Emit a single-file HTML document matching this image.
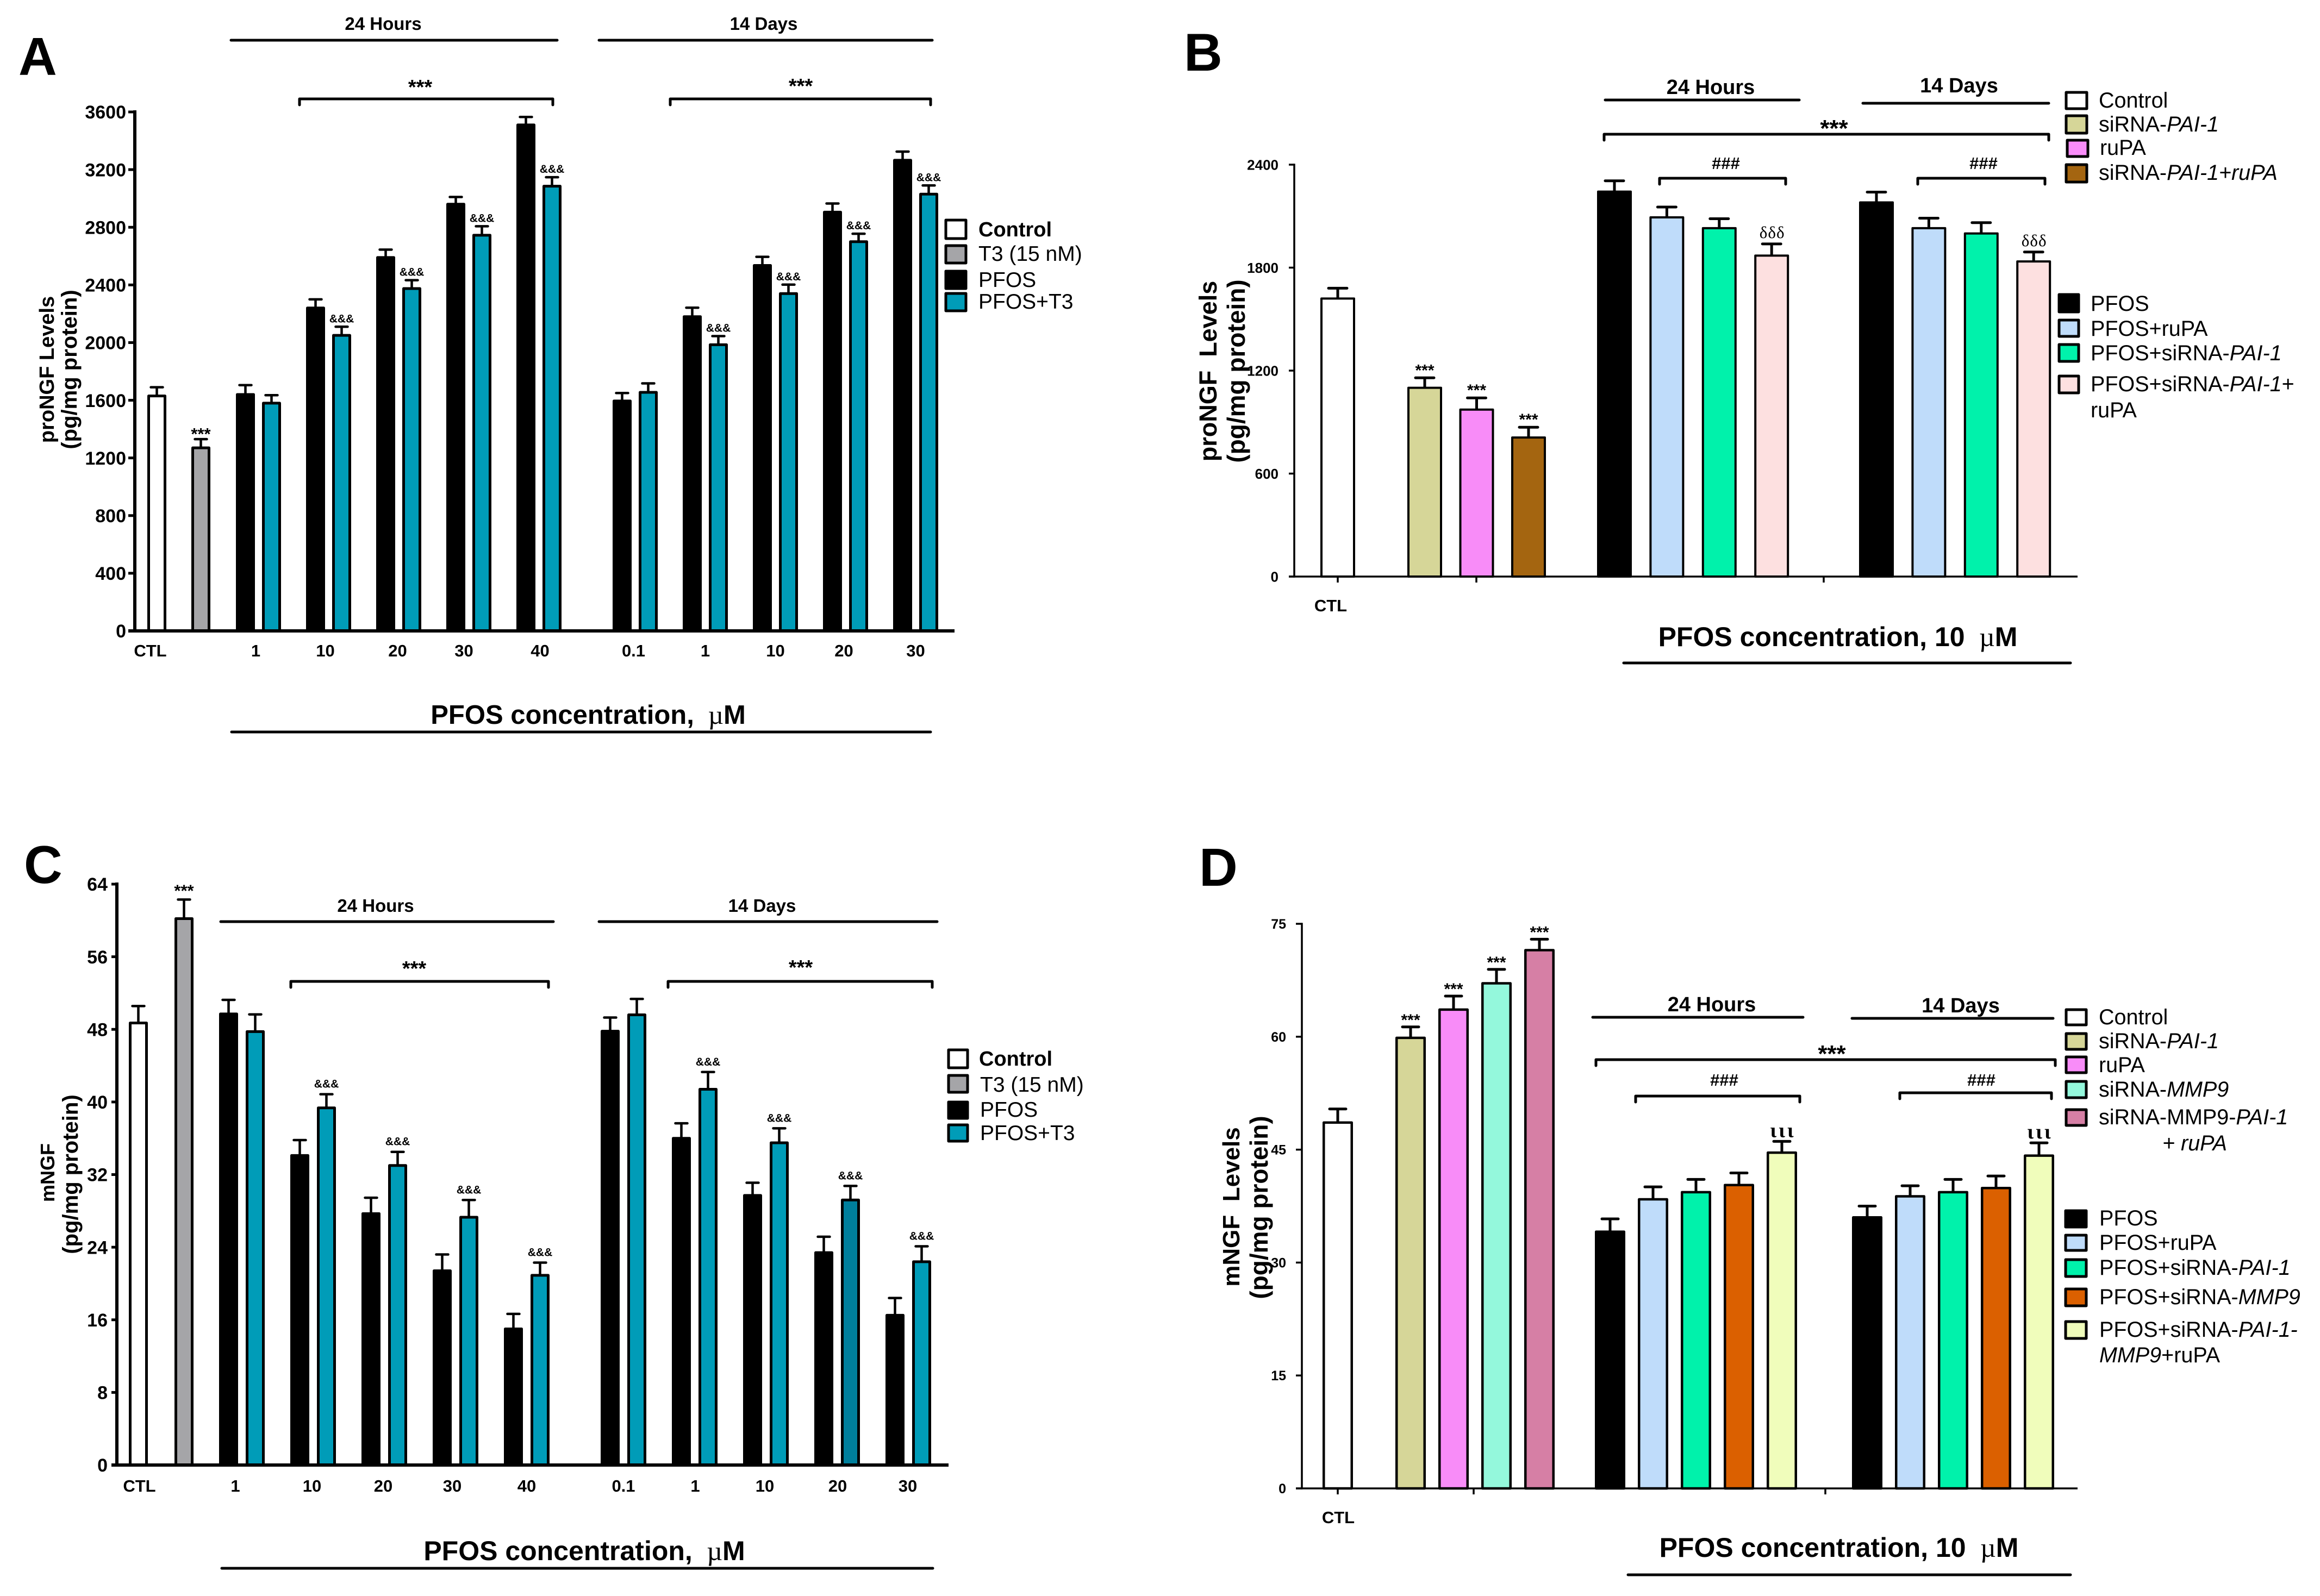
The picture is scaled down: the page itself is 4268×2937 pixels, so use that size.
<!DOCTYPE html>
<html lang="en">
<head>
<meta charset="utf-8">
<title>proNGF and mNGF levels after PFOS exposure</title>
<style>
html,body{margin:0;padding:0;background:#fff}
svg{display:block}
text{font-family:"Liberation Sans",sans-serif;fill:#000}
.b{font-weight:700}
.it{font-style:italic}
.lg{font-size:39.5px}
.hd{font-size:33px;font-weight:700;text-anchor:middle}
.hd2{font-size:38px;font-weight:700;text-anchor:middle}
.ttl{font-size:50px;font-weight:700;text-anchor:middle}
.let{font-size:98px;font-weight:700}
.ser{font-family:"Liberation Serif",serif;font-weight:400}
.ln{stroke:#000;fill:none;stroke-linecap:round;stroke-linejoin:round;stroke-width:5}
.sw{stroke:#000;stroke-width:5;stroke-linejoin:round}
</style>
</head>
<body>
<svg id="fig" xmlns="http://www.w3.org/2000/svg" width="4268" height="2937" viewBox="0 0 4268 2937">
<rect width="4268" height="2937" fill="#fff"/>

<!-- PANEL A static -->
<g id="panelA">
<text class="let" x="34" y="138">A</text>
<text class="hd" x="705" y="55">24 Hours</text>
<path class="ln" d="M425 74H1025"/>
<text class="hd" x="1405" y="55">14 Days</text>
<path class="ln" d="M1102 74H1715"/>
<path class="ln" d="M551 193V182H1017V193"/>
<text class="b" text-anchor="middle" font-size="38" x="773" y="173">***</text>
<path class="ln" d="M1233 193V182H1712V193"/>
<text class="b" text-anchor="middle" font-size="38" x="1473" y="171">***</text>
<g transform="translate(99,680) rotate(-90)"><text class="b" font-size="38" text-anchor="middle">proNGF Levels</text></g>
<g transform="translate(141,680) rotate(-90)"><text class="b" font-size="40" text-anchor="middle">(pg/mg protein)</text></g>
<text class="ttl" style="font-size:49px" x="1082" y="1332">PFOS concentration, <tspan class="ser">&#160;µ</tspan>M</text>
<path class="ln" d="M426 1347H1712"/>
<g>
<rect class="sw" x="1740" y="405" width="37" height="34" fill="#fff"/>
<text class="b" font-size="38" x="1800" y="435">Control</text>
<rect class="sw" x="1740" y="452" width="37" height="32" fill="#a5a5a8"/>
<text font-size="39" x="1800" y="480">T3 (15 nM)</text>
<rect class="sw" x="1740" y="499" width="37" height="32" fill="#000"/>
<text font-size="39" x="1800" y="528">PFOS</text>
<rect class="sw" x="1740" y="540" width="37" height="32" fill="#009cb8"/>
<text font-size="39" x="1800" y="568">PFOS+T3</text>
</g>
</g>

<!-- PANEL B static -->
<g id="panelB">
<text class="let" x="2178" y="130">B</text>
<text class="hd2" x="3147" y="173">24 Hours</text>
<path class="ln" d="M2953 184H3310"/>
<text class="hd2" x="3604" y="170">14 Days</text>
<path class="ln" d="M3427 190H3769"/>
<path class="ln" d="M2951 258V247H3769V258"/>
<text class="b" text-anchor="middle" font-size="44" x="3374" y="251">***</text>
<path class="ln" d="M3053 339V328H3285V339"/>
<text class="b" text-anchor="middle" font-size="31" x="3175" y="311">###</text>
<path class="ln" d="M3528 339V328H3762V339"/>
<text class="b" text-anchor="middle" font-size="31" x="3649" y="311">###</text>
<g transform="translate(2238,683) rotate(-90)"><text class="b" font-size="45" text-anchor="middle" xml:space="preserve">proNGF  Levels</text></g>
<g transform="translate(2290,683) rotate(-90)"><text class="b" font-size="46" text-anchor="middle">(pg/mg protein)</text></g>
<text class="b" text-anchor="middle" font-size="31" x="2448" y="1125">CTL</text>
<text class="ttl" x="3381" y="1189">PFOS concentration, 10 <tspan class="ser">&#160;µ</tspan>M</text>
<path class="ln" d="M2987 1220H3809"/>
<g>
<rect class="sw" x="3801" y="170" width="38" height="30" fill="#fff"/>
<text class="lg" x="3861" y="198">Control</text>
<rect class="sw" x="3801" y="213" width="38" height="32" fill="#d6d698"/>
<text class="lg" x="3861" y="242">siRNA-<tspan class="it">PAI-1</tspan></text>
<rect class="sw" x="3803" y="258" width="38" height="30" fill="#f88cf8"/>
<text class="lg" x="3863" y="285">ruPA</text>
<rect class="sw" x="3801" y="303" width="38" height="32" fill="#a46510"/>
<text class="lg" x="3861" y="331">siRNA-<tspan class="it">PAI-1+ruPA</tspan></text>
</g>
<g>
<rect class="sw" x="3788" y="542" width="36" height="32" fill="#000"/>
<text class="lg" x="3846" y="572">PFOS</text>
<rect class="sw" x="3788" y="589" width="36" height="30" fill="#bfdcfa"/>
<text class="lg" x="3846" y="618">PFOS+ruPA</text>
<rect class="sw" x="3788" y="634" width="36" height="31" fill="#00f2ab"/>
<text class="lg" x="3846" y="663">PFOS+siRNA-<tspan class="it">PAI-1</tspan></text>
<rect class="sw" x="3788" y="692" width="36" height="31" fill="#fde0e0"/>
<text class="lg" x="3846" y="720">PFOS+siRNA-<tspan class="it">PAI-1</tspan>+</text>
<text class="lg" x="3846" y="768">ruPA</text>
</g>
</g>

<!-- PANEL C static -->
<g id="panelC">
<text class="let" x="44" y="1625">C</text>
<text class="hd" x="691" y="1678">24 Hours</text>
<path class="ln" d="M406 1696H1018"/>
<text class="hd" x="1402" y="1678">14 Days</text>
<path class="ln" d="M1102 1696H1724"/>
<path class="ln" d="M535 1817V1806H1009V1817"/>
<text class="b" text-anchor="middle" font-size="38" x="762" y="1795">***</text>
<path class="ln" d="M1229 1817V1806H1715V1817"/>
<text class="b" text-anchor="middle" font-size="38" x="1473" y="1793">***</text>
<g transform="translate(100,2158) rotate(-90)"><text class="b" font-size="36" text-anchor="middle">mNGF</text></g>
<g transform="translate(143,2161) rotate(-90)"><text class="b" font-size="40" text-anchor="middle">(pg/mg protein)</text></g>
<text class="ttl" x="1075" y="2871">PFOS concentration, <tspan class="ser">&#160;µ</tspan>M</text>
<path class="ln" d="M408 2886H1716"/>
<g>
<rect class="sw" x="1745" y="1932" width="35" height="33" fill="#fff"/>
<text class="b" font-size="38" x="1801" y="1961">Control</text>
<rect class="sw" x="1745" y="1979" width="35" height="31" fill="#a5a5a8"/>
<text font-size="39" x="1803" y="2009">T3 (15 nM)</text>
<rect class="sw" x="1745" y="2028" width="35" height="30" fill="#000"/>
<text font-size="39" x="1803" y="2055">PFOS</text>
<rect class="sw" x="1745" y="2070" width="35" height="30" fill="#009cb8"/>
<text font-size="39" x="1803" y="2098">PFOS+T3</text>
</g>
</g>

<!-- PANEL D static -->
<g id="panelD">
<text class="let" x="2206" y="1630">D</text>
<text class="hd2" x="3149" y="1861">24 Hours</text>
<path class="ln" d="M2930 1872H3317"/>
<text class="hd2" x="3607" y="1863">14 Days</text>
<path class="ln" d="M3407 1874H3777"/>
<path class="ln" d="M2936 1961V1950H3781V1961"/>
<text class="b" text-anchor="middle" font-size="44" x="3370" y="1954">***</text>
<path class="ln" d="M3009 2028V2017H3311V2028"/>
<text class="b" text-anchor="middle" font-size="31" x="3172" y="1998">###</text>
<path class="ln" d="M3495 2022V2011H3774V2022"/>
<text class="b" text-anchor="middle" font-size="31" x="3645" y="1998">###</text>
<g transform="translate(2280,2221) rotate(-90)"><text class="b" font-size="44" text-anchor="middle" xml:space="preserve">mNGF  Levels</text></g>
<g transform="translate(2332,2222) rotate(-90)"><text class="b" font-size="46" text-anchor="middle">(pg/mg protein)</text></g>
<text class="b" text-anchor="middle" font-size="31" x="2462" y="2803">CTL</text>
<text class="ttl" x="3383" y="2865">PFOS concentration, 10 <tspan class="ser">&#160;µ</tspan>M</text>
<path class="ln" d="M2995 2898H3809"/>
<g>
<rect class="sw" x="3801" y="1858" width="37" height="28" fill="#fff"/>
<text class="lg" x="3861" y="1885">Control</text>
<rect class="sw" x="3801" y="1902" width="37" height="29" fill="#d6d698"/>
<text class="lg" x="3861" y="1929">siRNA-<tspan class="it">PAI-1</tspan></text>
<rect class="sw" x="3801" y="1945" width="37" height="29" fill="#f88cf8"/>
<text class="lg" x="3861" y="1973">ruPA</text>
<rect class="sw" x="3801" y="1990" width="37" height="30" fill="#94f8dc"/>
<text class="lg" x="3861" y="2018">siRNA-<tspan class="it">MMP9</tspan></text>
<rect class="sw" x="3801" y="2042" width="37" height="29" fill="#d67fa5"/>
<text class="lg" x="3861" y="2069">siRNA-MMP9-<tspan class="it">PAI-1</tspan></text>
<text class="lg it" x="3978" y="2117">+ ruPA</text>
</g>
<g>
<rect class="sw" x="3800" y="2228" width="38" height="30" fill="#000"/>
<text class="lg" x="3862" y="2255">PFOS</text>
<rect class="sw" x="3800" y="2273" width="38" height="28" fill="#bfdcfa"/>
<text class="lg" x="3862" y="2300">PFOS+ruPA</text>
<rect class="sw" x="3800" y="2318" width="38" height="31" fill="#00f2ab"/>
<text class="lg" x="3862" y="2346">PFOS+siRNA-<tspan class="it">PAI-1</tspan></text>
<rect class="sw" x="3800" y="2372" width="38" height="31" fill="#db6000"/>
<text class="lg" x="3862" y="2400">PFOS+siRNA-<tspan class="it">MMP9</tspan></text>
<rect class="sw" x="3800" y="2432" width="38" height="31" fill="#f0fdbb"/>
<text class="lg" x="3862" y="2460">PFOS+siRNA-<tspan class="it">PAI-1-</tspan></text>
<text class="lg" x="3862" y="2507"><tspan class="it">MMP9</tspan>+ruPA</text>
</g>
</g>
</svg>

<script>
// ---------- Panel A data ----------
const aYTicks = [0, 400, 800, 1200, 1600, 2000, 2400, 2800, 3200, 3600];
const aControlLabels = ['CTL', ''];
const aControlValues = [1630, 1270];
const aControlErrors = [60, 60];
const aDoseLabels = ['1', '10', '20', '30', '40', '0.1', '1', '10', '20', '30'];
const aPfosValues = [1640, 2240, 2590, 2960, 3510, 1595, 2180, 2535, 2905, 3265];
const aPfosErrors = [65, 60, 55, 50, 55, 55, 62, 60, 60, 60];
const aPfosT3Values = [1580, 2050, 2375, 2745, 3085, 1655, 1985, 2340, 2700, 3030];
const aPfosT3Errors = [55, 60, 58, 62, 62, 62, 60, 62, 55, 60];
const aPfosT3Marks = ['', '&&&', '&&&', '&&&', '&&&', '', '&&&', '&&&', '&&&', '&&&'];

// ---------- Panel B data ----------
const bYTicks = [0, 600, 1200, 1800, 2400];
const bControlNames = ['Control', 'siRNA-PAI-1', 'ruPA', 'siRNA-PAI-1+ruPA'];
const bControlValues = [1620, 1100, 973, 810];
const bControlErrors = [60, 58, 68, 60];
const bTreatNames = ['PFOS', 'PFOS+ruPA', 'PFOS+siRNA-PAI-1', 'PFOS+siRNA-PAI-1+ruPA'];
const b24hValues = [2243, 2093, 2030, 1870];
const b24hErrors = [63, 60, 55, 68];
const b14dValues = [2180, 2030, 1999, 1836];
const b14dErrors = [60, 58, 63, 55];

// ---------- Panel C data ----------
const cYTicks = [0, 8, 16, 24, 32, 40, 48, 56, 64];
const cControlLabels = ['CTL', ''];
const cControlValues = [48.7, 60.2];
const cControlErrors = [1.87, 2.1];
const cDoseLabels = ['1', '10', '20', '30', '40', '0.1', '1', '10', '20', '30'];
const cPfosValues = [49.7, 34.1, 27.7, 21.4, 15.0, 47.8, 36.0, 29.7, 23.4, 16.5];
const cPfosErrors = [1.55, 1.7, 1.75, 1.8, 1.65, 1.5, 1.65, 1.4, 1.75, 1.9];
const cPfosT3Values = [47.75, 39.35, 33.0, 27.3, 20.9, 49.6, 41.4, 35.5, 29.2, 22.4];
const cPfosT3Errors = [1.9, 1.5, 1.5, 1.9, 1.4, 1.75, 1.9, 1.6, 1.55, 1.7];
const cPfosT3Marks = ['', '&&&', '&&&', '&&&', '&&&', '', '&&&', '&&&', '&&&', '&&&'];

// ---------- Panel D data ----------
const dYTicks = [0, 15, 30, 45, 60, 75];
const dControlNames = ['Control', 'siRNA-PAI-1', 'ruPA', 'siRNA-MMP9', 'siRNA-MMP9-PAI-1+ruPA'];
const dControlValues = [48.6, 59.85, 63.6, 67.1, 71.5];
const dControlErrors = [1.8, 1.45, 1.8, 1.85, 1.45];
const dTreatNames = ['PFOS', 'PFOS+ruPA', 'PFOS+siRNA-PAI-1', 'PFOS+siRNA-MMP9', 'PFOS+siRNA-PAI-1-MMP9+ruPA'];
const d24hValues = [34.1, 38.4, 39.35, 40.3, 44.6];
const d24hErrors = [1.7, 1.65, 1.7, 1.6, 1.5];
const d14dValues = [36.0, 38.8, 39.35, 39.9, 44.2];
const d14dErrors = [1.5, 1.4, 1.7, 1.6, 1.7];

// ---------- Style look-ups (keyed by series name) ----------
const fillBySeries = {
  'Control': '#ffffff', 'T3': '#a5a5a8', 'PFOS': '#000000', 'PFOS+T3': '#009cb8',
  'siRNA-PAI-1': '#d6d698', 'ruPA': '#f88cf8', 'siRNA-PAI-1+ruPA': '#a46510',
  'siRNA-MMP9': '#94f8dc', 'siRNA-MMP9-PAI-1+ruPA': '#d67fa5',
  'PFOS+ruPA': '#bfdcfa', 'PFOS+siRNA-PAI-1': '#00f2ab', 'PFOS+siRNA-PAI-1+ruPA': '#fde0e0',
  'PFOS+siRNA-MMP9': '#db6000', 'PFOS+siRNA-PAI-1-MMP9+ruPA': '#f0fdbb'
};

const NS = 'http://www.w3.org/2000/svg';
function node(tag, parent) {
  const el = document.createElementNS(NS, tag);
  parent.appendChild(el);
  return el;
}
function slug(s) {
  return String(s).toLowerCase().replace(/[^a-z0-9]+/g, '-').replace(/^-|-$/g, '');
}

// Y axis scale factory: pixel range comes from the panel frame.
function linearY(max, top, base) {
  return v => base - (v / max) * (base - top);
}

// Draw one bar with its upward error whisker. Returns the whisker-top pixel.
function drawBar(parent, name, left, width, value, err, fill, y, frame) {
  const base = y(0);
  const top = y(value);
  const capTop = y(value + err);
  const cx = left + width / 2;
  const sw = frame.barStroke;

  const whisker = node('line', parent);
  
  
  whisker.setAttribute('x1', cx);
  whisker.setAttribute('x2', cx);
  whisker.setAttribute('y1', top);
  whisker.setAttribute('y2', capTop);
  whisker.setAttribute('stroke', '#000');
  whisker.setAttribute('stroke-width', frame.errStroke);

  const cap = node('line', parent);
  
  
  cap.setAttribute('x1', cx - frame.capHalf);
  cap.setAttribute('x2', cx + frame.capHalf);
  cap.setAttribute('y1', capTop);
  cap.setAttribute('y2', capTop);
  cap.setAttribute('stroke', '#000');
  cap.setAttribute('stroke-width', frame.errStroke);
  cap.setAttribute('stroke-linecap', 'round');

  const bar = node('rect', parent);
  
  
  bar.setAttribute('x', left + sw / 2);
  bar.setAttribute('y', top);
  bar.setAttribute('width', width - sw);
  bar.setAttribute('height', base - top);
  bar.setAttribute('fill', fill);
  bar.setAttribute('stroke', '#000');
  bar.setAttribute('stroke-width', sw);
  bar.setAttribute('stroke-linejoin', 'round');
  return capTop;
}

function drawMark(parent, name, text, cx, y, size, serif, bold, spacing) {
  const t = node('text', parent);
  
  
  t.setAttribute('x', cx);
  t.setAttribute('y', y);
  t.setAttribute('text-anchor', 'middle');
  t.setAttribute('font-size', size);
  let css = '';
  if (serif) css += 'font-family:"Liberation Serif",serif;';
  if (spacing) css += 'letter-spacing:' + spacing + 'px;';
  if (css) t.setAttribute('style', css);
  t.setAttribute('font-weight', bold ? '700' : '400');
  t.textContent = text;
}

function drawAxes(parent, prefix, ticks, y, frame) {
  const yAxis = node('line', parent);
  
  
  yAxis.setAttribute('x1', frame.axisX);
  yAxis.setAttribute('x2', frame.axisX);
  yAxis.setAttribute('y1', y(ticks[ticks.length - 1]));
  yAxis.setAttribute('y2', y(0));
  yAxis.setAttribute('stroke', '#000');
  yAxis.setAttribute('stroke-width', frame.axisStroke);
  yAxis.setAttribute('stroke-linecap', 'square');

  const xAxis = node('line', parent);
  
  
  xAxis.setAttribute('x1', frame.axisX - frame.tickLen);
  xAxis.setAttribute('x2', frame.axisEnd);
  xAxis.setAttribute('y1', y(0));
  xAxis.setAttribute('y2', y(0));
  xAxis.setAttribute('stroke', '#000');
  xAxis.setAttribute('stroke-width', frame.axisStroke);

  ticks.forEach(v => {
    const tick = node('line', parent);
    
    
    tick.setAttribute('x1', frame.axisX - frame.tickLen);
    tick.setAttribute('x2', frame.axisX);
    tick.setAttribute('y1', y(v));
    tick.setAttribute('y2', y(v));
    tick.setAttribute('stroke', '#000');
    tick.setAttribute('stroke-width', frame.tickStroke);

    const label = node('text', parent);
    
    
    label.setAttribute('x', frame.tickLabelX);
    label.setAttribute('y', y(v) + frame.tickSize * 0.36);
    label.setAttribute('text-anchor', 'end');
    label.setAttribute('font-size', frame.tickSize);
    label.setAttribute('font-weight', '700');
    label.textContent = v;
  });
}

function drawXTick(parent, name, x, y, frame) {
  const t = node('line', parent);
  
  
  t.setAttribute('x1', x);
  t.setAttribute('x2', x);
  t.setAttribute('y1', y(0));
  t.setAttribute('y2', y(0) + frame.xTickLen);
  t.setAttribute('stroke', '#000');
  t.setAttribute('stroke-width', frame.tickStroke);
}

// Panels A and C share a structure: two control bars, then ten PFOS / PFOS+T3 pairs.
function drawPairPanel(g, prefix, frame, ticks, ctlLabels, ctlValues, ctlErrors, doses, pVals, pErrs, tVals, tErrs, marks) {
  const y = linearY(ticks[ticks.length - 1], frame.top, frame.base);
  const names = ['Control', 'T3'];
  const pairX = (i, slot) => {
    const block = i < 5 ? 0 : 1;
    return frame.blockStart[block] + (i - block * 5) * frame.groupStep + slot * frame.pairOffset;
  };

  ctlValues.forEach((v, i) => {
    const left = frame.controlLeft[i];
    const top = drawBar(g, prefix + '-bar-' + slug(names[i]), left, frame.barW, v, ctlErrors[i], fillBySeries[names[i]], y, frame);
    if (ctlLabels[i]) {
      const lab = node('text', g);
      
      
      lab.setAttribute('x', left + frame.barW / 2 + frame.ctlLabelShift);
      lab.setAttribute('y', frame.xLabelY);
      lab.setAttribute('text-anchor', 'middle');
      lab.setAttribute('font-size', frame.xLabelSize);
      lab.setAttribute('font-weight', '700');
      lab.textContent = ctlLabels[i];
    }
    if (names[i] === 'T3') {
      drawMark(g, prefix + '-t3-significance', '***', left + frame.barW / 2, top + frame.starDy, 31, false, true);
    }
  });

  doses.forEach((d, i) => {
    const period = i < 5 ? '24h' : '14d';
    drawBar(g, prefix + '-bar-pfos-' + period + '-' + slug(d), pairX(i, 0), frame.barW, pVals[i], pErrs[i], fillBySeries['PFOS'], y, frame);
    const special = prefix === 'c' && i === 8;
    const topT = drawBar(g, prefix + '-bar-pfos-t3-' + period + '-' + slug(d), pairX(i, 1), frame.barW, tVals[i], tErrs[i], special ? '#007f9c' : fillBySeries['PFOS+T3'], y, frame);
    if (marks[i]) {
      drawMark(g, prefix + '-t3-effect-' + period + '-' + slug(d), marks[i], pairX(i, 1) + frame.barW / 2, topT - frame.markGap, 21, false, true);
    }
    const lab = node('text', g);
    
    
    lab.setAttribute('x', (pairX(i, 0) + pairX(i, 1) + frame.barW) / 2 + frame.labelNudge[i]);
    lab.setAttribute('y', frame.xLabelY);
    lab.setAttribute('text-anchor', 'middle');
    lab.setAttribute('font-size', frame.xLabelSize);
    lab.setAttribute('font-weight', '700');
    lab.textContent = d;
  });
  drawAxes(g, prefix, ticks, y, frame);
}

// Panels B and D share a structure: control group then two blocks of treatment bars.
function drawTreatPanel(g, prefix, frame, ticks, ctlNames, ctlValues, ctlErrors, treatNames, vals24, errs24, vals14, errs14, glyph) {
  const y = linearY(ticks[ticks.length - 1], frame.top, frame.base);
  const ctlX = i => (i === 0 ? frame.ctlFirst : frame.ctlStart + (i - 1) * frame.ctlStep);
  const treatX = (block, i) => frame.blockStart[block] + i * frame.treatStep;

  ctlValues.forEach((v, i) => {
    const top = drawBar(g, prefix + '-bar-' + slug(ctlNames[i]), ctlX(i), frame.barW, v, ctlErrors[i], fillBySeries[ctlNames[i]], y, frame);
    if (i > 0) {
      drawMark(g, prefix + '-significance-' + slug(ctlNames[i]), '***', ctlX(i) + frame.barW / 2, top - frame.starGap, 30, false, true);
    }
  });
  [[vals24, errs24, '24h'], [vals14, errs14, '14d']].forEach((set, block) => {
    set[0].forEach((v, i) => {
      const top = drawBar(g, prefix + '-bar-' + set[2] + '-' + slug(treatNames[i]), treatX(block, i), frame.barW, v, set[1][i], fillBySeries[treatNames[i]], y, frame);
      if (i === set[0].length - 1) {
        drawMark(g, prefix + '-combination-effect-' + set[2], glyph, treatX(block, i) + frame.barW / 2 + frame.glyphShift, top - frame.glyphGap, frame.glyphSize, true, frame.glyphBold, frame.glyphSpacing);
      }
    });
  });
  drawAxes(g, prefix, ticks, y, frame);
  frame.xTicks.forEach((x, i) => {
    drawXTick(g, prefix + '-x-tick-' + (i + 1), x, y, frame);
  });
}

drawPairPanel(document.getElementById('panelA'), 'a', {
  top: 206, base: 1161, axisX: 248, axisEnd: 1756, axisStroke: 6, tickLen: 12, tickStroke: 5,
  tickLabelX: 232, tickSize: 34, barW: 35, barStroke: 5, errStroke: 4.5, capHalf: 11,
  controlLeft: [271, 352], blockStart: [434, 1127], groupStep: 129, pairOffset: 48,
  ctlLabelShift: -12, xLabelY: 1208, xLabelSize: 31, starDy: 1, markGap: 8,
  labelNudge: [-5, -6, -2, -9, 2, -3, 0, 0, -3, 0]
}, aYTicks, aControlLabels, aControlValues, aControlErrors, aDoseLabels, aPfosValues, aPfosErrors, aPfosT3Values, aPfosT3Errors, aPfosT3Marks);

drawTreatPanel(document.getElementById('panelB'), 'b', {
  top: 303, base: 1061, axisX: 2381, axisEnd: 3822, axisStroke: 3.5, tickLen: 10, tickStroke: 3.5,
  tickLabelX: 2352, tickSize: 26, barW: 64, barStroke: 4, errStroke: 5, capHalf: 17,
  ctlFirst: 2429, ctlStart: 2589, ctlStep: 95.5, blockStart: [2938, 3420], treatStep: 96.4,
  starGap: 4, glyphGap: 11, glyphSize: 31, glyphBold: false, glyphSpacing: 1, glyphShift: 1,
  xTickLen: 11, xTicks: [2461, 2716, 3355]
}, bYTicks, bControlNames, bControlValues, bControlErrors, bTreatNames, b24hValues, b24hErrors, b14dValues, b14dErrors, 'δδδ');

drawPairPanel(document.getElementById('panelC'), 'c', {
  top: 1627, base: 2696, axisX: 215, axisEnd: 1745, axisStroke: 6, tickLen: 10, tickStroke: 5,
  tickLabelX: 198, tickSize: 34, barW: 35, barStroke: 5, errStroke: 4.5, capHalf: 11,
  controlLeft: [237, 321], blockStart: [403, 1105], groupStep: 131, pairOffset: 49,
  ctlLabelShift: 2, xLabelY: 2745, xLabelSize: 31, starDy: -6, markGap: 12,
  labelNudge: [-12, -2, -2, -6, 0, 0, 1, -2, 1, -1]
}, cYTicks, cControlLabels, cControlValues, cControlErrors, cDoseLabels, cPfosValues, cPfosErrors, cPfosT3Values, cPfosT3Errors, cPfosT3Marks);

drawTreatPanel(document.getElementById('panelD'), 'd', {
  top: 1700, base: 2739, axisX: 2395, axisEnd: 3822, axisStroke: 3.5, tickLen: 11, tickStroke: 3.5,
  tickLabelX: 2366, tickSize: 25, barW: 56, barStroke: 4.5, errStroke: 5, capHalf: 15,
  ctlFirst: 2433, ctlStart: 2567, ctlStep: 79, blockStart: [2934, 3407], treatStep: 79,
  starGap: 3, glyphGap: 8, glyphSize: 38, glyphBold: true, glyphSpacing: 4, glyphShift: 2,
  xTickLen: 11, xTicks: [2461, 2711, 3358]
}, dYTicks, dControlNames, dControlValues, dControlErrors, dTreatNames, d24hValues, d24hErrors, d14dValues, d14dErrors, 'ιιι');
</script>
</body>
</html>
